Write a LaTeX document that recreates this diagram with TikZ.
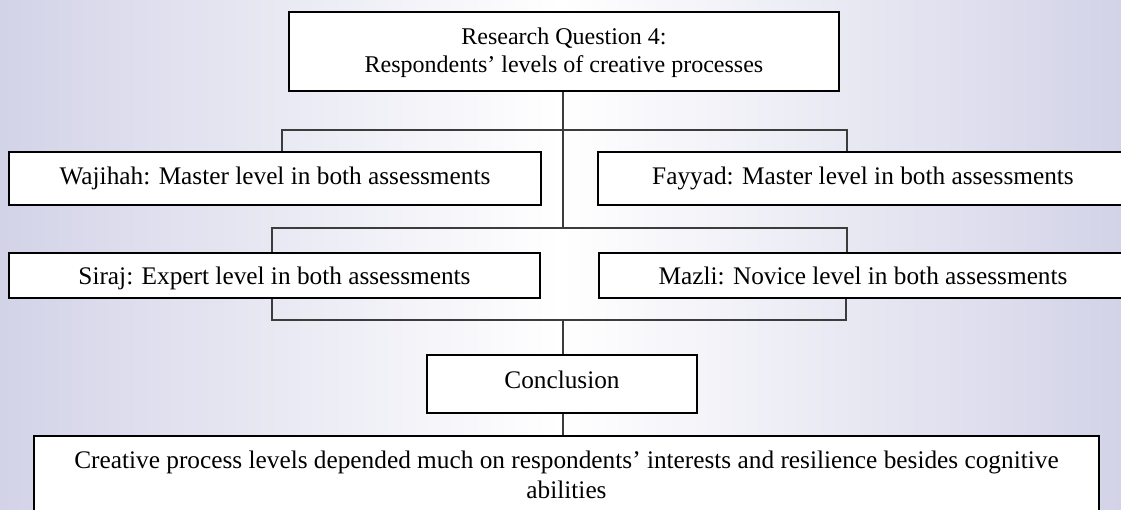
\documentclass[tikz,border=0pt]{standalone}
\usepackage{fontspec}
\setmainfont{Liberation Serif}
\definecolor{edge}{RGB}{211,211,232}
\definecolor{linkgray}{RGB}{60,60,60}
\tikzset{
  box/.style={draw=black, line width=1.6pt, fill=white, rectangle, inner sep=0pt, align=center,
    font=\fontsize{25.3}{30}\selectfont},
  oneline/.style={box, text height=18pt, text depth=5pt},
  link/.style={draw=linkgray, line width=1.1pt},
}
\begin{document}
\begin{tikzpicture}[x=1pt,y=-1pt]
\useasboundingbox (0,0) rectangle (1121,510);
\clip (0,0) rectangle (1121,510);
\shade[left color=edge, right color=edge, middle color=white] (0,0) rectangle (1121,510);

\node[box, font=\fontsize{24}{28}\selectfont, minimum width=550pt, minimum height=79pt] (top) at (564,51.5)
  {\rule{0pt}{20pt}Research Question 4:\\Respondents’ levels of creative processes};
\node[oneline, minimum width=532pt, minimum height=53pt] (waj) at (275,178.5)
  {Wajihah: Master level in both assessments};
\node[oneline, minimum width=530pt, minimum height=53pt] (fay) at (863,178.5)
  {Fayyad: Master level in both assessments};
\node[oneline, text height=20pt, text depth=1pt, minimum width=531pt, minimum height=45pt] (sir) at (274.5,275.5)
  {Siraj: Expert level in both assessments};
\node[oneline, text height=20pt, text depth=1pt, minimum width=528pt, minimum height=45pt] (maz) at (863,275.5)
  {Mazli: Novice level in both assessments};
\node[oneline, text height=16pt, text depth=8pt, minimum width=270pt, minimum height=58pt] (conc) at (562,384)
  {Conclusion};
\node[box, minimum width=1065pt, minimum height=90pt, anchor=north] (fin) at (566.5,435)
  {};
\node[font=\fontsize{25.3}{30}\selectfont, align=center, anchor=base, inner sep=0pt] (fintext) at (566.5,498)
  {Creative process levels depended much on respondents’ interests and resilience besides cognitive\\abilities};

\coordinate (b1L) at (282,130);
\coordinate (b1R) at (847,130);
\coordinate (b2L) at (272,228);
\coordinate (b2R) at (847,228);
\coordinate (b3L) at (272,320);
\coordinate (b3R) at (846,320);
\coordinate (trunkA) at (563,228);
\coordinate (trunkB) at (563,320);

\draw[link] (top.south -| trunkA) -- (trunkA);
\draw[link] (b1L |- waj.north) -- (b1L) -- (b1R) -- (b1R |- fay.north);
\draw[link] (b2L |- sir.north) -- (b2L) -- (b2R) -- (b2R |- maz.north);
\draw[link] (b3L |- sir.south) -- (b3L) -- (b3R) -- (b3R |- maz.south);
\draw[link] (trunkB) -- (conc.north -| trunkB);
\draw[link] (conc.south -| trunkB) -- (fin.north -| trunkB);
\end{tikzpicture}
\end{document}
